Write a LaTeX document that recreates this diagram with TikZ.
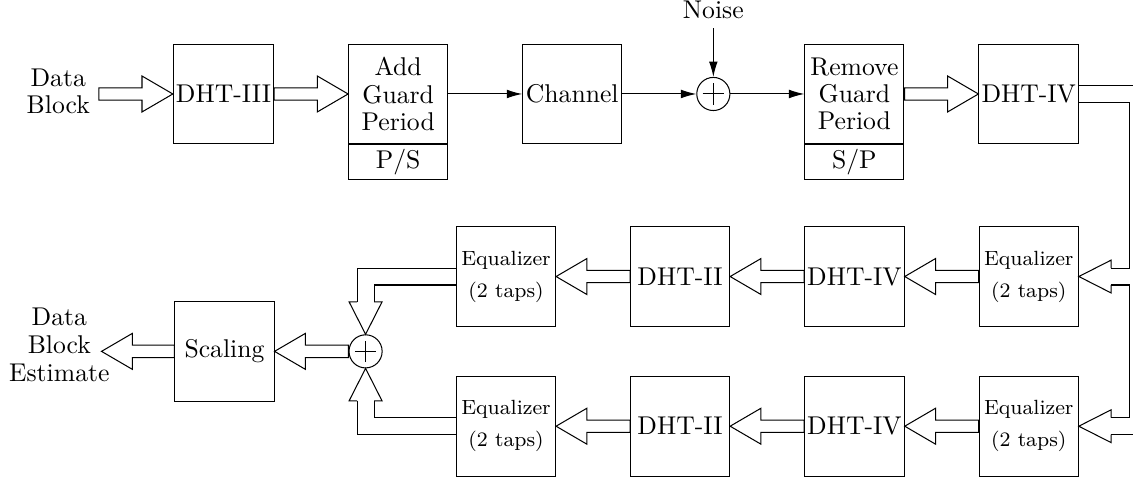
\documentclass[tikz,border=0pt]{standalone}
\usepackage{tikz}
\usetikzlibrary{calc,positioning,arrows.meta}
\tikzset{
    block/.style={draw, minimum width=38.6pt, minimum height=38.8pt,
                  inner sep=1pt, align=center,
                  font=\fontsize{10}{10.6}\selectfont},
    subBlock/.style={draw, minimum width=38.6pt, minimum height=13.4pt,
                     inner sep=1pt, align=center},
    eqBlock/.style={block, font=\fontsize{8}{12.4}\selectfont},
    adder/.style={draw, circle, minimum size=12.9pt, inner sep=0pt,
                  path picture={\draw
                      ([xshift=-4.2pt]path picture bounding box.center) --
                      ([xshift=4.2pt]path picture bounding box.center)
                      ([yshift=-4.2pt]path picture bounding box.center) --
                      ([yshift=4.2pt]path picture bounding box.center);}},
    lbl/.style={align=center, font=\fontsize{10}{10.8}\selectfont},
    thinArrow/.style={-{Latex[length=6pt, width=3.4pt]}},
    % hollow block arrow, straight
    fatArrow/.style={to path={
        let \p1=(\tikztostart), \p2=(\tikztotarget), \n1={sign(\x2-\x1)} in
        (\x1,{\y1+2.4pt}) -- ({\x2-\n1*12pt},{\y1+2.4pt})
        -- ({\x2-\n1*12pt},{\y1+7pt}) -- (\x2,\y2)
        -- ({\x2-\n1*12pt},{\y1-7pt}) -- ({\x2-\n1*12pt},{\y1-2.4pt})
        -- (\x1,{\y1-2.4pt}) -- cycle}},
    % hollow shaft with bends, and its open head
    fatShaft/.style={double, double distance=6.2pt, line join=miter},
    fatHead/.style={to path={
        ($(\tikztostart)!3.3pt!90:(\tikztotarget)$)
        -- ($(\tikztostart)!6.4pt!90:(\tikztotarget)$) -- (\tikztotarget)
        -- ($(\tikztostart)!6.4pt!-90:(\tikztotarget)$)
        -- ($(\tikztostart)!3.3pt!-90:(\tikztotarget)$)}},
}
\begin{document}
\begin{tikzpicture}[node distance=28.8pt]
\useasboundingbox (0,0) rectangle (441.3pt,-185.8pt);

% =======================  transmitter / channel  =======================
\node[block] (dhtIII) at (87.05pt,-36.6pt) {DHT-III};
\node[lbl, left=of dhtIII, yshift=1pt] (dataIn) {Data\\Block};
\node[block, right=of dhtIII] (addGuard) {Add\\Guard\\Period};
\node[subBlock, below=0pt of addGuard] (addPS) {P/S};
\node[block, right=of addGuard] (channel) {Channel};
\node[adder, right=of channel] (noiseSum) {};
\node[lbl, above=19pt of noiseSum] (noiseLbl) {Noise};
\node[block, right=of noiseSum] (remGuard) {Remove\\Guard\\Period};
\node[subBlock, below=0pt of remGuard] (remSP) {S/P};
\node[block, right=of remGuard] (dhtIVtop) {DHT-IV};

\draw (dataIn.east |- dhtIII.west) to[fatArrow] (dhtIII.west);
\draw (dhtIII.east) to[fatArrow] (addGuard.west);
\draw[thinArrow] (addGuard.east) -- (channel.west);
\draw[thinArrow] (channel.east) -- (noiseSum.west);
\draw[thinArrow] (noiseLbl.south) -- (noiseSum.north);
\draw[thinArrow] (noiseSum.east) -- (remGuard.west);
\draw (remGuard.east) to[fatArrow] (dhtIVtop.west);

% =======================  receiver branches  =======================
\node[eqBlock, below=31.9pt of dhtIVtop] (eqUpR) {Equalizer\\(2 taps)};
\node[block, left=of eqUpR] (dhtIVup) {DHT-IV};
\node[block, left=of dhtIVup] (dhtIIup) {DHT-II};
\node[eqBlock, left=of dhtIIup] (eqUpL) {Equalizer\\(2 taps)};

\node[eqBlock, below=19.1pt of eqUpR] (eqLoR) {Equalizer\\(2 taps)};
\node[block, left=of eqLoR] (dhtIVlo) {DHT-IV};
\node[block, left=of dhtIVlo] (dhtIIlo) {DHT-II};
\node[eqBlock, left=of dhtIIlo] (eqLoL) {Equalizer\\(2 taps)};

\coordinate[right=12.6pt of eqUpR.east] (eqUpBase);
\coordinate[right=12.6pt of eqLoR.east] (eqLoBase);
\draw[fatShaft] (dhtIVtop.east) -- ++(22.8pt,0) coordinate (split)
    |- (eqUpBase) (split) |- (eqLoBase);
\draw (eqUpBase) to[fatHead] (eqUpR.east);
\draw (eqLoBase) to[fatHead] (eqLoR.east);

\draw (eqUpR.west) to[fatArrow] (dhtIVup.east);
\draw (dhtIVup.west) to[fatArrow] (dhtIIup.east);
\draw (dhtIIup.west) to[fatArrow] (eqUpL.east);
\draw (eqLoR.west) to[fatArrow] (dhtIVlo.east);
\draw (dhtIVlo.west) to[fatArrow] (dhtIIlo.east);
\draw (dhtIIlo.west) to[fatArrow] (eqLoL.east);

% =======================  combining + scaling  =======================
\node[adder] (combSum) at ($(eqUpL.west)!.5!(eqLoL.west)+(-35.2pt,0)$) {};
\node[block, left=of combSum] (scaling) {Scaling};
\coordinate[left=28.4pt of scaling] (outTip);
\node[lbl, inner sep=0pt, left=-3.3pt of outTip, yshift=2.6pt] (dataOut)
     {Data\\Block\\Estimate};

\coordinate[above=12.6pt of combSum.north] (sumUpBase);
\coordinate[below=12.6pt of combSum.south] (sumLoBase);
\draw[fatShaft] (eqUpL.west) -| (sumUpBase);
\draw[fatShaft] (eqLoL.west) -| (sumLoBase);
\draw (sumUpBase) to[fatHead] (combSum.north);
\draw (sumLoBase) to[fatHead] (combSum.south);

\draw (combSum.west) to[fatArrow] (scaling.east);
\draw (scaling.west) to[fatArrow] (outTip);

\end{tikzpicture}
\end{document}
